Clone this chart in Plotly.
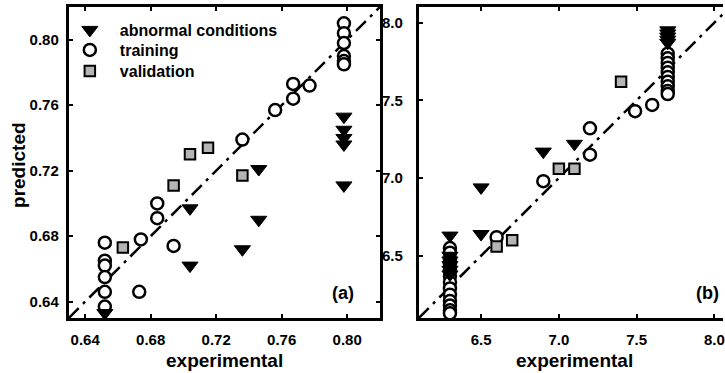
import plotly.graph_objects as go

# ---------------- panel (a) ----------------
a_train_x = [0.652, 0.652, 0.652, 0.652, 0.652, 0.652,
             0.673, 0.674, 0.684, 0.684, 0.694, 0.736, 0.756, 0.767, 0.767, 0.777,
             0.798, 0.798, 0.798, 0.798, 0.798, 0.798]
a_train_y = [0.676, 0.665, 0.662, 0.655, 0.646, 0.637,
             0.646, 0.678, 0.700, 0.691, 0.674, 0.739, 0.757, 0.764, 0.773, 0.772,
             0.810, 0.804, 0.798, 0.790, 0.787, 0.785]
a_valid_x = [0.663, 0.694, 0.704, 0.715, 0.736]
a_valid_y = [0.673, 0.711, 0.730, 0.734, 0.717]
a_abn_x = [0.652, 0.704, 0.704, 0.736, 0.746, 0.746, 0.798, 0.798, 0.798, 0.798, 0.798]
a_abn_y = [0.633, 0.662, 0.697, 0.672, 0.721, 0.690, 0.753, 0.745, 0.740, 0.736, 0.711]
a_range = [0.63, 0.82]
a_ticks = [0.64, 0.68, 0.72, 0.76, 0.80]

# ---------------- panel (b) ----------------
b_train_x = [6.3] * 13 + [6.6, 6.9, 7.2, 7.2, 7.49, 7.6] + [7.7] * 10
b_train_y = [6.55, 6.52, 6.48, 6.45, 6.41, 6.37, 6.33, 6.29, 6.25, 6.21, 6.18, 6.15, 6.13,
             6.62, 6.98, 7.15, 7.32, 7.43, 7.47,
             7.80, 7.77, 7.74, 7.71, 7.68, 7.65, 7.62, 7.59, 7.56, 7.54]
b_valid_x = [6.6, 6.7, 7.0, 7.1, 7.4]
b_valid_y = [6.56, 6.60, 7.06, 7.06, 7.62]
b_abn_x = [6.3] * 6 + [6.5, 6.5, 6.9, 7.1] + [7.7] * 5
b_abn_y = [6.63, 6.50, 6.47, 6.44, 6.41, 6.38, 6.94, 6.64, 7.17, 7.22,
           7.95, 7.93, 7.91, 7.89, 7.87]
b_range = [6.1, 8.1]
b_ticks = [6.5, 7.0, 7.5, 8.0]

W, H = 725, 373
FONT = "Liberation Sans, Arial, sans-serif"

# plot-area placement in pixels
a_left, a_right = 69, 381
b_left = 420
top, bottom = 7, 318
b_width = a_right - a_left  # panels are square
b_xmax = b_range[0] + (W - b_left) / b_width * (b_range[1] - b_range[0])

train_marker = dict(symbol="circle", size=12, color="white",
                    line=dict(color="black", width=2.5))
valid_marker = dict(symbol="square", size=10.5, color="#b5b5b5",
                    line=dict(color="black", width=2))
abn_marker = dict(symbol="triangle-down", size=14, color="black",
                  line=dict(color="black", width=1))
diag_line = dict(color="black", width=2.5, dash="14px,6px,3px,6px")

fig = go.Figure()

# identity lines
fig.add_trace(go.Scatter(x=a_range, y=a_range, mode="lines", line=diag_line,
                         showlegend=False, xaxis="x", yaxis="y"))
fig.add_trace(go.Scatter(x=b_range, y=b_range, mode="lines", line=diag_line,
                         showlegend=False, xaxis="x2", yaxis="y2"))

# panel (a) data
fig.add_trace(go.Scatter(x=a_train_x, y=a_train_y, mode="markers", marker=train_marker,
                         name="training", legend="legend2", xaxis="x", yaxis="y"))
fig.add_trace(go.Scatter(x=a_valid_x, y=a_valid_y, mode="markers", marker=valid_marker,
                         name="validation", legend="legend3", xaxis="x", yaxis="y"))
fig.add_trace(go.Scatter(x=a_abn_x, y=a_abn_y, mode="markers", marker=abn_marker,
                         name="abnormal conditions", legend="legend", xaxis="x", yaxis="y"))

# panel (b) data
fig.add_trace(go.Scatter(x=b_train_x, y=b_train_y, mode="markers", marker=train_marker,
                         showlegend=False, xaxis="x2", yaxis="y2"))
fig.add_trace(go.Scatter(x=b_valid_x, y=b_valid_y, mode="markers", marker=valid_marker,
                         showlegend=False, xaxis="x2", yaxis="y2"))
fig.add_trace(go.Scatter(x=b_abn_x, y=b_abn_y, mode="markers", marker=abn_marker,
                         showlegend=False, xaxis="x2", yaxis="y2"))

tickfont = dict(family=FONT, size=15, color="black", weight="bold")
common = dict(showgrid=False, zeroline=False, showline=True, linecolor="black",
              linewidth=3, ticks="inside", ticklen=4, tickwidth=1.5,
              tickcolor="black", tickfont=tickfont, ticklabeloverflow="allow")

ydom = [1 - bottom / H, 1 - top / H]
fig.update_layout(
    width=W, height=H,
    margin=dict(l=0, r=0, t=0, b=0),
    paper_bgcolor="white", plot_bgcolor="white",
    xaxis=dict(domain=[a_left / W, a_right / W], range=a_range, tickvals=a_ticks,
               tickformat=".2f", mirror="ticks", anchor="y",
               ticklabelstandoff=6, **common),
    yaxis=dict(domain=ydom, range=a_range, tickvals=a_ticks, tickformat=".2f",
               mirror="ticks", anchor="x", ticklabelstandoff=4, **common),
    xaxis2=dict(domain=[b_left / W, 1.0], range=[b_range[0], b_xmax], tickvals=b_ticks,
                tickformat=".1f", mirror="ticks", anchor="y2",
                ticklabelstandoff=6, **common),
    yaxis2=dict(domain=ydom, range=b_range, tickvals=b_ticks, tickformat=".1f",
                mirror=False, anchor="x2", ticklabelstandoff=10, **common),
    showlegend=True,
)

# one legend box per entry so rows sit at fixed heights
leg_common = dict(x=60 / W, xanchor="left", yanchor="middle",
                  bgcolor="rgba(0,0,0,0)", borderwidth=0, itemwidth=50,
                  font=dict(family=FONT, size=16, color="black", weight="bold"))
fig.update_layout(
    legend=dict(y=1 - 30 / H, **leg_common),
    legend2=dict(y=1 - 50 / H, **leg_common),
    legend3=dict(y=1 - 71 / H, **leg_common),
)

title_font = dict(family=FONT, size=19, color="black", weight="bold")
label_font = dict(family=FONT, size=18, color="black", weight="bold")
annotations = [
    dict(text="experimental", x=(a_left + a_right) / 2 / W, y=1 - 360 / H,
         xref="paper", yref="paper", showarrow=False, font=title_font,
         xanchor="center", yanchor="middle"),
    dict(text="experimental", x=(b_left + b_left + b_width) / 2 / W, y=1 - 360 / H,
         xref="paper", yref="paper", showarrow=False, font=title_font,
         xanchor="center", yanchor="middle"),
    dict(text="predicted", x=18 / W, y=1 - 165 / H, xref="paper", yref="paper",
         showarrow=False, font=title_font, textangle=-90,
         xanchor="center", yanchor="middle"),
    dict(text="(a)", x=344 / W, y=1 - 293 / H, xref="paper", yref="paper",
         showarrow=False, font=label_font, xanchor="center", yanchor="middle"),
    dict(text="(b)", x=709 / W, y=1 - 293 / H, xref="paper", yref="paper",
         showarrow=False, font=label_font, xanchor="center", yanchor="middle"),
]
fig.update_layout(annotations=annotations)

fig.write_html("out.html")
